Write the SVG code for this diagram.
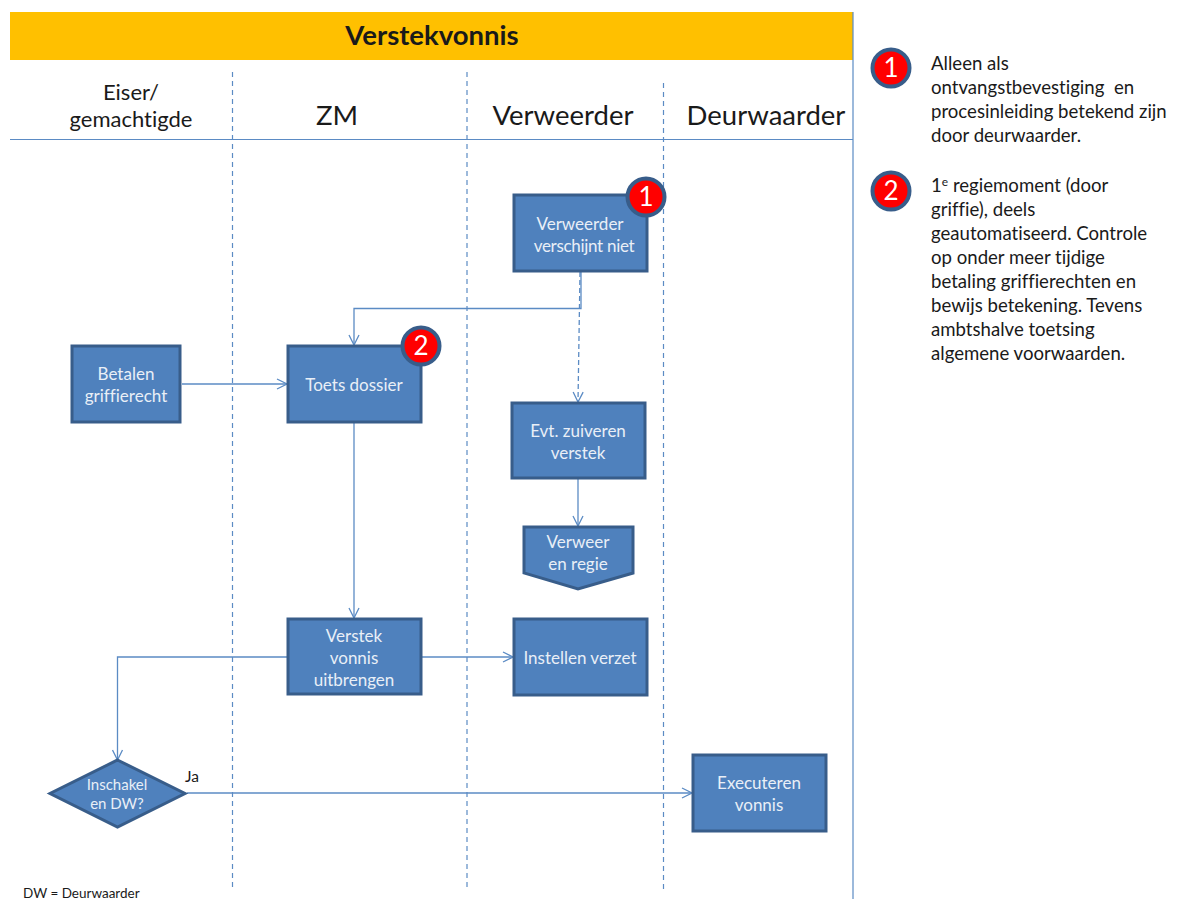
<svg xmlns="http://www.w3.org/2000/svg" width="1178" height="899" viewBox="0 0 1178 899">
<style>
text{font-family:Lato,"Noto Sans",sans-serif;font-variant-ligatures:none;white-space:pre}
.box{fill:#4f81bd;stroke:#385d8a;stroke-width:3}
.lbl{fill:#e9eff7;font-size:17px;text-anchor:middle}
.hd{fill:#1a1a1a;font-size:27.500px;text-anchor:middle}
.hd2{fill:#1a1a1a;font-size:22px;text-anchor:middle}
.note{fill:#1a1a1a;font-size:18.600px}
.lane{fill:none;stroke:#5b8bc4;stroke-width:1.200;stroke-dasharray:5 4}
.rule{fill:none;stroke:#5b8bc4;stroke-width:1.200}
.con{fill:none;stroke:#5b8bc4;stroke-width:1.300}
.badge{fill:#f00;stroke:#385d8a;stroke-width:4}
.num{fill:#fff;font-size:26px;text-anchor:middle}
</style>
<defs>
<marker id="arr" viewBox="0 0 12 12" refX="11" refY="6" markerWidth="12" markerHeight="12" markerUnits="userSpaceOnUse" orient="auto">
<path d="M1 1L11 6L1 11" fill="none" stroke="#5b8bc4" stroke-width="1.300"/>
</marker>
</defs>
<rect width="1178" height="899" fill="#fff"/>
<g id="header">
<rect x="10" y="12" width="843" height="48" fill="#ffc000"/>
<text x="432" y="45" text-anchor="middle" font-size="27.500" font-weight="700" fill="#1a1a1a">Verstekvonnis</text>
</g>
<g id="lanes">
<path class="rule" d="M853 12V899M10 139.500H853"/>
<path class="lane" d="M232.500 72V890M467 72V890M663.500 83V890"/>
<text class="hd2" x="131" y="100">Eiser/</text>
<text class="hd2" x="131" y="127">gemachtigde</text>
<text class="hd" x="337" y="125">ZM</text>
<text class="hd" x="563" y="125">Verweerder</text>
<text class="hd" x="766" y="125">Deurwaarder</text>
</g>
<g id="connectors">
<path class="con" d="M581 272V308.500H354V345" marker-end="url(#arr)"/>
<path class="con" stroke-dasharray="5 3" d="M580 272L578 402" marker-end="url(#arr)"/>
<path class="con" d="M182 384H287" marker-end="url(#arr)"/>
<path class="con" d="M354 423V618" marker-end="url(#arr)"/>
<path class="con" d="M578 479V526" marker-end="url(#arr)"/>
<path class="con" d="M422 657H513" marker-end="url(#arr)"/>
<path class="con" d="M287 657H117.500V760" marker-end="url(#arr)"/>
<path class="con" d="M187 793H692" marker-end="url(#arr)"/>
</g>
<g id="n-verweerder">
<rect class="box" x="514" y="195" width="133" height="76"/>
<text class="lbl" x="580" y="230">Verweerder</text>
<text class="lbl" x="584" y="252" letter-spacing="-0.300">verschijnt niet</text>
</g>
<g id="badge-1">
<circle class="badge" cx="646" cy="197" r="18.500"/>
<text class="num" x="646" y="206">1</text>
</g>
<g id="n-betalen">
<rect class="box" x="72" y="346" width="108" height="76"/>
<text class="lbl" x="126" y="380">Betalen</text>
<text class="lbl" x="126" y="402">griffierecht</text>
</g>
<g id="n-toets">
<rect class="box" x="288" y="346" width="133" height="76"/>
<text class="lbl" x="354" y="391">Toets dossier</text>
</g>
<g id="badge-2">
<circle class="badge" cx="421" cy="346" r="18.500"/>
<text class="num" x="421" y="355">2</text>
</g>
<g id="n-zuiveren">
<rect class="box" x="512" y="403" width="133" height="75"/>
<text class="lbl" x="578" y="437">Evt. zuiveren</text>
<text class="lbl" x="578" y="459">verstek</text>
</g>
<g id="n-verweer">
<path class="box" d="M524 527H633V573L578 589L524 573Z"/>
<text class="lbl" x="578" y="548">Verweer</text>
<text class="lbl" x="578" y="570">en regie</text>
</g>
<g id="n-vonnis">
<rect class="box" x="288" y="619" width="133" height="75"/>
<text class="lbl" x="354" y="642">Verstek</text>
<text class="lbl" x="354" y="664">vonnis</text>
<text class="lbl" x="354" y="686">uitbrengen</text>
</g>
<g id="n-verzet">
<rect class="box" x="514" y="619" width="133" height="76"/>
<text class="lbl" x="580" y="664">Instellen verzet</text>
</g>
<g id="n-inschakelen">
<path class="box" d="M117.500 760L185 793.500L117.500 827L50 793.500Z"/>
<text class="lbl" x="117" y="790" style="font-size:15px">Inschakel</text>
<text class="lbl" x="117" y="809" style="font-size:15px">en DW?</text>
</g>
<text x="185" y="782" font-size="15.500" fill="#1a1a1a">Ja</text>
<g id="n-executeren">
<rect class="box" x="693" y="755" width="133" height="76"/>
<text class="lbl" x="759" y="789">Executeren</text>
<text class="lbl" x="759" y="811">vonnis</text>
</g>
<text x="23" y="898" font-size="13.500" fill="#1a1a1a">DW = Deurwaarder</text>
<g id="legend-1">
<circle class="badge" cx="891" cy="68" r="18.500"/>
<text class="num" x="891" y="77">1</text>
<text class="note" x="931" y="70">Alleen als</text>
<text class="note" x="931" y="94">ontvangstbevestiging  en</text>
<text class="note" x="931" y="118">procesinleiding betekend zijn</text>
<text class="note" x="931" y="142">door deurwaarder.</text>
</g>
<g id="legend-2">
<circle class="badge" cx="891" cy="191" r="18.500"/>
<text class="num" x="891" y="200">2</text>
<text class="note" x="931" y="192">1<tspan font-size="12" dy="-6">e</tspan><tspan dy="6"> regiemoment (door</tspan></text>
<text class="note" x="931" y="216">griffie), deels</text>
<text class="note" x="931" y="240">geautomatiseerd. Controle</text>
<text class="note" x="931" y="264">op onder meer tijdige</text>
<text class="note" x="931" y="288">betaling griffierechten en</text>
<text class="note" x="931" y="312">bewijs betekening. Tevens</text>
<text class="note" x="931" y="336">ambtshalve toetsing</text>
<text class="note" x="931" y="360">algemene voorwaarden.</text>
</g>
</svg>
